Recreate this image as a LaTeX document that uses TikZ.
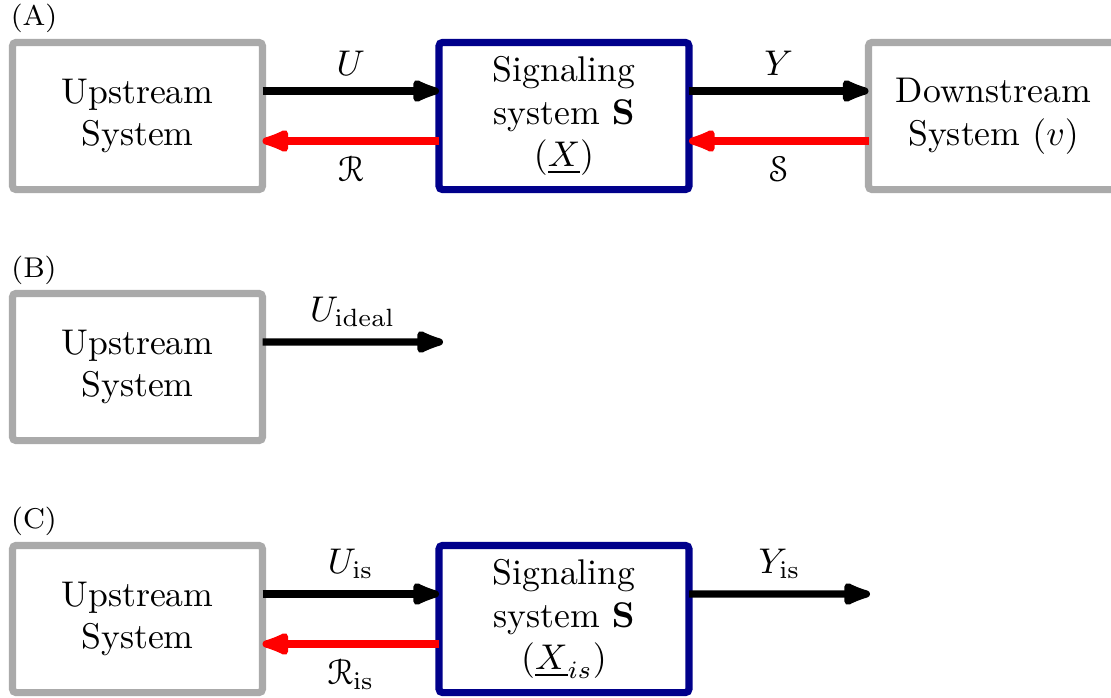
\documentclass[tikz,border=0pt]{standalone}
\usepackage[mathcal]{eucal}
\usetikzlibrary{arrows.meta}
\definecolor{boxgray}{HTML}{AAAAAA}
\definecolor{sigblue}{HTML}{00008B}
\begin{document}
\begin{tikzpicture}[x=0.28pt,y=-0.28pt,
  sysbox/.style={draw=boxgray,line width=2pt,rounded corners=1pt,minimum width=70pt,minimum height=41.2pt,align=center,outer sep=0pt,inner sep=0pt},
  sigbox/.style={sysbox,draw=sigblue},
  fwd/.style={line width=2pt,-{Latex[length=10.5pt,width=7.5pt,round]}},
  bwd/.style={line width=2pt,red,-{Latex[length=10.5pt,width=7.5pt,round]}},
  panel/.style={font=\footnotesize,inner sep=0pt}]
\useasboundingbox (0,0) rectangle (1111,698);
% Row A
\node[panel] (la) at (34,18) {(A)};
\node[sysbox] (upA) at (137.5,116) {Upstream\\System};
\node[sigbox] (sigA) at (564,116) {Signaling\\system $\mathbf{S}$\\$(\underline{X})$};
\node[sysbox] (dnA) at (993.5,116) {Downstream\\System $(v)$};
\draw[fwd] ([yshift=7pt]upA.east) -- node[above=0pt] (lU) {$U$} ([yshift=7pt]sigA.west);
\draw[bwd] ([yshift=-7pt]sigA.west) -- node[below=0pt,black] (lR) {$\mathcal{R}$} ([yshift=-7pt]upA.east);
\draw[fwd] ([yshift=7pt]sigA.east) -- node[above=0pt] (lY) {$Y$} ([yshift=7pt]dnA.west);
\draw[bwd] ([yshift=-7pt]dnA.west) -- node[below=0pt,black] (lS) {$\mathcal{S}$} ([yshift=-7pt]sigA.east);
% Row B
\node[panel] (lb) at (34,270) {(B)};
\node[sysbox] (upB) at (137.5,367) {Upstream\\System};
\coordinate (endB) at (443,342);
\draw[fwd] ([yshift=7pt]upB.east) -- node[above=0pt] (lUi) {$U_{\mathrm{ideal}}$} (endB);
% Row C
\node[panel] (lc) at (34,521) {(C)};
\node[sysbox] (upC) at (137.5,619) {Upstream\\System};
\node[sigbox] (sigC) at (564,619) {Signaling\\system $\mathbf{S}$\\$(\underline{X}_{is})$};
\coordinate (endC) at (870,594);
\draw[fwd] ([yshift=7pt]upC.east) -- node[above=0pt] (lUis) {$U_{\mathrm{is}}$} ([yshift=7pt]sigC.west);
\draw[bwd] ([yshift=-7pt]sigC.west) -- node[below=0pt,black] (lRis) {$\mathcal{R}_{\mathrm{is}}$} ([yshift=-7pt]upC.east);
\draw[fwd] ([yshift=7pt]sigC.east) -- node[above=0pt] (lYis) {$Y_{\mathrm{is}}$} (endC);
\end{tikzpicture}
\end{document}
